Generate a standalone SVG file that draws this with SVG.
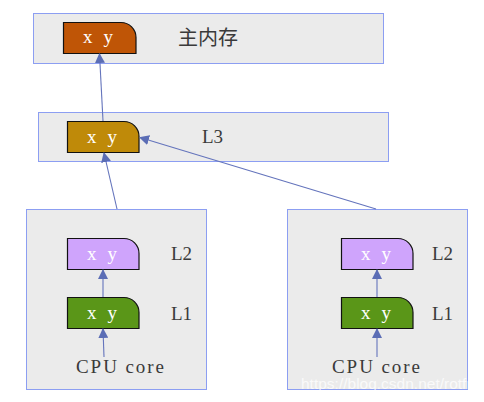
<svg xmlns="http://www.w3.org/2000/svg" width="484" height="402" viewBox="0 0 484 402">
<defs>
<style>
.box{fill:#ebebeb;stroke:#8c9ef2;stroke-width:1}
.node{stroke:#111;stroke-width:1.2}
.xy{font-family:"Liberation Serif",serif;font-size:19px;fill:#ffffff}
.lbl{font-family:"Liberation Serif",serif;font-size:19px;fill:#3a3a3a}
.cn{font-family:"Noto Sans CJK SC","Liberation Serif",serif;font-size:20px;fill:#3a3a3a}
.cpu{font-family:"Liberation Serif",serif;font-size:19px;fill:#3a3a3a}
.wm{font-family:"Liberation Sans",sans-serif;font-size:15px;fill:#ffffff;fill-opacity:0.75}
.conn{stroke:#6474bc;stroke-width:1.1;fill:none;marker-end:url(#ah)}
</style>
<marker id="ah" markerWidth="10" markerHeight="10" refX="9" refY="5" orient="auto" markerUnits="userSpaceOnUse">
<path d="M0,0 L10,5 L0,10 Z" fill="#5b6db5"/>
</marker>
</defs>
<rect width="484" height="402" fill="#ffffff"/>
<g id="main-box">
<rect class="box" x="33.5" y="13.5" width="350" height="50"/>
<path class="node" fill="#bf5506" d="M63.5,22.5 H121 A15,15 0 0 1 136,37.5 V53.5 H63.5 Z"/>
<text class="xy" x="83" y="43" textLength="30" lengthAdjust="spacing">x y</text>
<text class="cn" x="178" y="45">主内存</text>
</g>
<g id="l3-box">
<rect class="box" x="38.5" y="112.5" width="350" height="49"/>
<path class="node" fill="#bf8a09" d="M67.5,121.5 H124 A15,15 0 0 1 139,136.5 V152.5 H67.5 Z"/>
<text class="xy" x="87" y="143" textLength="30" lengthAdjust="spacing">x y</text>
<text class="lbl" x="202" y="143">L3</text>
</g>
<g id="core-left">
<rect class="box" x="26.5" y="209.5" width="180" height="180"/>
<path class="node" fill="#cfa4fc" d="M67.5,238.5 H124 A15,15 0 0 1 139,253.5 V269.5 H67.5 Z"/>
<text class="xy" x="87" y="260" textLength="30" lengthAdjust="spacing">x y</text>
<text class="lbl" x="171" y="260">L2</text>
<path class="node" fill="#5a9618" d="M67.5,297.5 H124 A15,15 0 0 1 139,312.5 V328.5 H67.5 Z"/>
<text class="xy" x="87" y="319" textLength="30" lengthAdjust="spacing">x y</text>
<text class="lbl" x="171" y="320">L1</text>
<text class="cpu" x="76" y="373" textLength="88" lengthAdjust="spacing">CPU core</text>
</g>
<g id="core-right">
<rect class="box" x="287.5" y="209.5" width="180" height="180"/>
<path class="node" fill="#cfa4fc" d="M341.5,238.5 H398 A15,15 0 0 1 413,253.5 V269.5 H341.5 Z"/>
<text class="xy" x="361" y="260" textLength="30" lengthAdjust="spacing">x y</text>
<text class="lbl" x="432" y="260">L2</text>
<path class="node" fill="#5a9618" d="M341.5,297.5 H398 A15,15 0 0 1 413,312.5 V328.5 H341.5 Z"/>
<text class="xy" x="361" y="319" textLength="30" lengthAdjust="spacing">x y</text>
<text class="lbl" x="432" y="320">L1</text>
<text class="cpu" x="332" y="373" textLength="88" lengthAdjust="spacing">CPU core</text>
</g>
<g id="connectors">
<line class="conn" x1="103" y1="121" x2="99.5" y2="54"/>
<line class="conn" x1="117" y1="209" x2="104" y2="153"/>
<line class="conn" x1="376" y1="209" x2="140" y2="137.5"/>
<line class="conn" x1="103" y1="297" x2="103" y2="270"/>
<line class="conn" x1="104" y1="357" x2="103" y2="329"/>
<line class="conn" x1="377" y1="297" x2="377" y2="270"/>
<line class="conn" x1="377" y1="357" x2="377" y2="329"/>
</g>
<text class="wm" x="301" y="389" textLength="174" lengthAdjust="spacingAndGlyphs">https://blog.csdn.net/rotfn</text>
</svg>
